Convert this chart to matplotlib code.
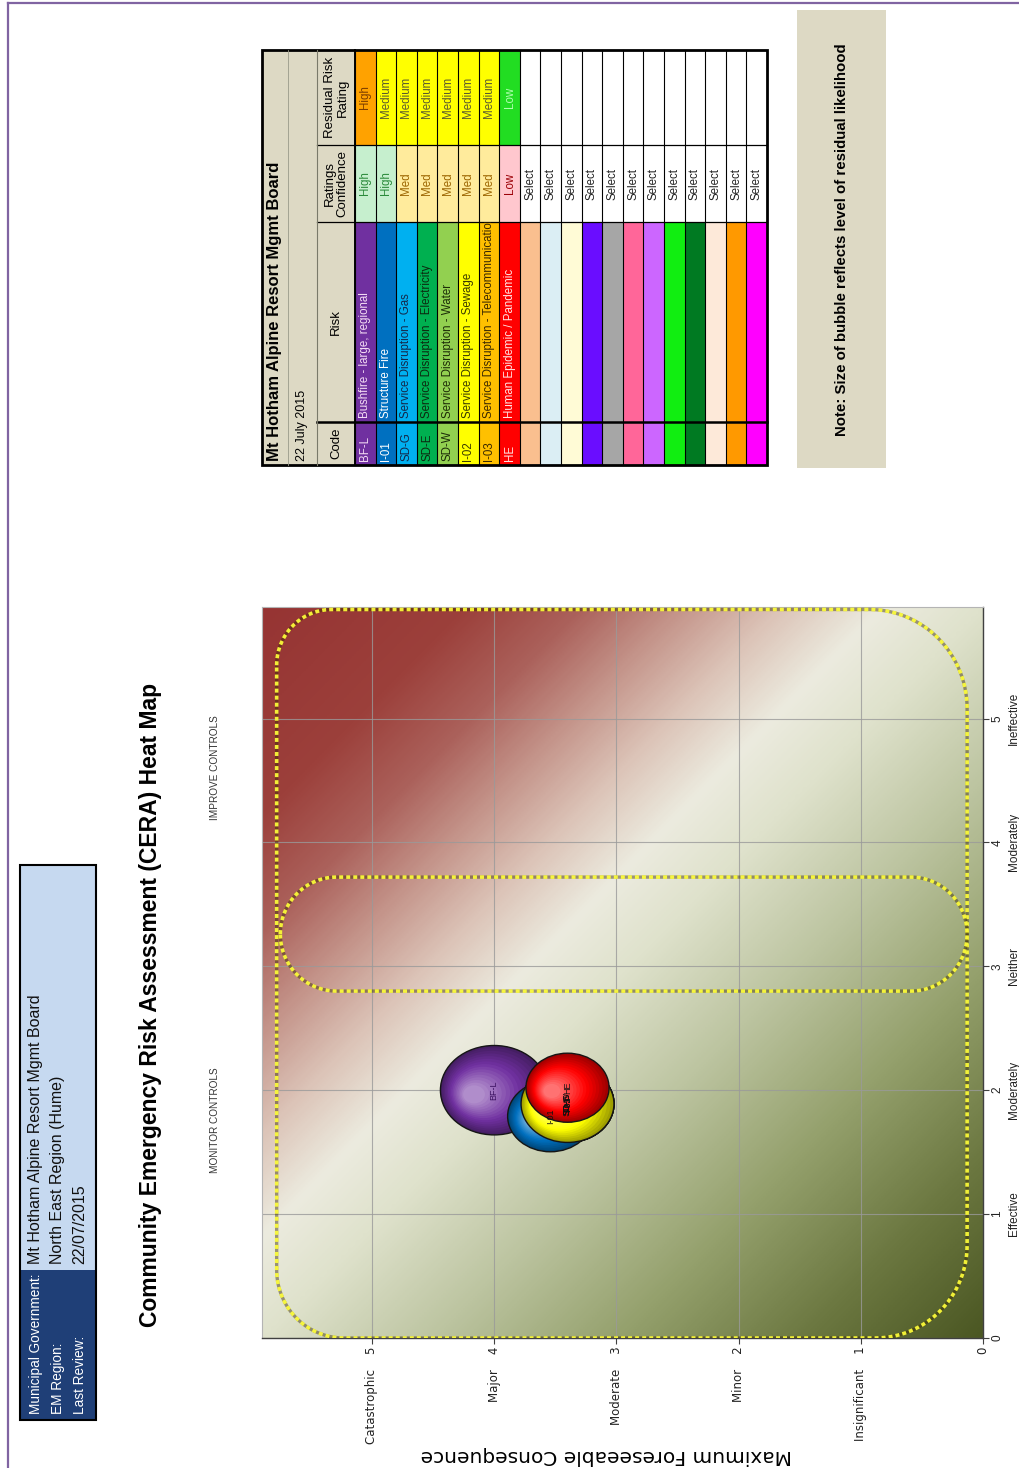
import numpy as np
import matplotlib.pyplot as plt
from matplotlib.patches import Rectangle, Ellipse, PathPatch
from matplotlib.path import Path
from matplotlib.colors import LinearSegmentedColormap, to_rgb
from matplotlib.transforms import Bbox, TransformedBbox

W, H = 1020, 1468
SANS = ['Liberation Sans', 'DejaVu Sans']

# ---------------- page header ----------------
info_labels = ['Municipal Government:', 'EM Region:', 'Last Review:']
info_values = ['Mt Hotham Alpine Resort Mgmt Board', 'North East Region (Hume)', '22/07/2015']
chart_title = 'Community Emergency Risk Assessment (CERA) Heat Map'
zone_labels = ['MONITOR CONTROLS', 'IMPROVE CONTROLS']
note_text = 'Note: Size of bubble reflects level of residual likelihood'

# ---------------- heat map axes ----------------
AX_MAX = 5.9
cons_ticks = [0, 1, 2, 3, 4, 5]
cons_names = ['', 'Insignificant', 'Minor', 'Moderate', 'Major', 'Catastrophic']
like_ticks = [0, 1, 2, 3, 4, 5]
like_names = ['', 'Effective', 'Moderately', 'Neither', 'Moderately', 'Ineffective']
cons_label = 'Maximum Foreseeable Consequence'

# ---------------- risk register ----------------
board = 'Mt Hotham Alpine Resort Mgmt Board'
review_date = '22 July 2015'
codes = ['BF-L', 'I-01', 'SD-G', 'SD-E', 'SD-W', 'I-02', 'I-03', 'HE']
risks = ['Bushfire - large, regional', 'Structure Fire', 'Service Disruption - Gas',
         'Service Disruption - Electricity', 'Service Disruption - Water',
         'Service Disruption - Sewage', 'Service Disruption - Telecommunications',
         'Human Epidemic / Pandemic']
risk_colors = ['#7030a0', '#0070c0', '#00b0f0', '#00b050', '#92d050', '#ffff00', '#ffc000', '#ff0000']
risk_text = ['#f4dcf4', '#ffffff', '#14284a', '#0c2a10', '#1c2c08', '#3a3a00', '#3a2800', '#ffe4e4']
confidence = ['High', 'High', 'Med', 'Med', 'Med', 'Med', 'Med', 'Low']
residual = ['High', 'Medium', 'Medium', 'Medium', 'Medium', 'Medium', 'Medium', 'Low']
blank_colors = ['#fabf8f', '#dbeef4', '#fffbd6', '#6a0dff', '#a6a6a6', '#ff6699',
                '#cc66ff', '#11ee11', '#007a22', '#fde9d9', '#ff9900', '#ff00ff']
blank_text = 'Select'

conf_style = {'High': ('#c6efce', '#2a8a3a'), 'Med': ('#ffeb9c', '#9c6500'), 'Low': ('#ffc7ce', '#9c0006')}
resid_style = {'High': ('#ffa200', '#7a3d00'), 'Medium': ('#ffff00', '#5a5a30'), 'Low': ('#22dd22', '#b0ffb0')}

# ---------------- bubbles (consequence, likelihood, size) ----------------
bubble_cons = [4.0, 3.54, 3.40, 3.40, 3.40, 3.40, 3.40, 3.40]
bubble_like = [2.0, 1.79, 1.89, 1.89, 1.89, 1.89, 1.89, 2.02]
bubble_size = [0.88, 0.70, 0.76, 0.76, 0.76, 0.76, 0.76, 0.68]
draw_order = [0, 2, 3, 4, 6, 1, 5, 7]

# dotted zones: (cons_low, cons_high, like_low, like_high), corner radii
# radii order: page top-left, top-right, bottom-right, bottom-left
zones = [((0.13, 5.78, 0.0, 5.88), (0.45, 0.8, 0.75, 0.55)),
         ((0.13, 5.75, 2.80, 3.72), (0.46, 0.46, 0.46, 0.46))]

heat_stops = [(0.00, '#4b5723'), (0.12, '#6b7740'), (0.25, '#94a06c'), (0.38, '#bcc4a0'),
              (0.50, '#dfe2cc'), (0.57, '#ecebdf'), (0.64, '#dcc4b8'), (0.71, '#c4948a'),
              (0.78, '#ab615b'), (0.86, '#9c403b'), (1.00, '#963433')]


def shaded_bubble(ax, c, l, w, color, n=16):
    h = w * 0.82
    base = np.array(to_rgb(color))
    dark = base * 0.62
    light = base + (1 - base) * 0.5
    ax.add_patch(Ellipse((c, l), w, h, facecolor=dark, edgecolor='#151515', lw=1.0, zorder=4))
    for k in range(1, n):
        f = k / n
        s = 1 - 0.85 * f
        if f < 0.4:
            col = dark + (base - dark) * (f / 0.4)
        else:
            col = base + (light - base) * ((f - 0.4) / 0.6)
        ax.add_patch(Ellipse((c + 0.2 * w * f, l - 0.05 * h * f), w * s, h * s,
                             facecolor=np.clip(col, 0, 1), edgecolor='none', zorder=4))


fig = plt.figure(figsize=(W / 100, H / 100), dpi=100)
page = fig.add_axes([0, 0, 1, 1], zorder=0)
page.set_xlim(0, W)
page.set_ylim(H, 0)
page.axis('off')

# purple page frame
page.plot([8, 8], [3, H], color='#8064a2', lw=1.6)
page.plot([8, W], [3, 3], color='#8064a2', lw=1.6)

# info box
page.add_patch(Rectangle((20, 865), 76, 405, fc='#c6d9f0', ec='none'))
page.add_patch(Rectangle((20, 1270), 76, 150, fc='#1f3f77', ec='none'))
page.add_patch(Rectangle((20, 865), 76, 555, fc='none', ec='black', lw=1.5))
for i, (lab, val) in enumerate(zip(info_labels, info_values)):
    x = 36 + 22 * i
    page.text(x, 1414, lab, rotation=90, ha='center', va='bottom', color='white',
              fontsize=9.8, family=SANS)
    page.text(x, 1264, val, rotation=90, ha='center', va='bottom', color='#101010',
              fontsize=11.5, family=SANS)

page.text(151, 1005, chart_title, rotation=90, ha='center', va='center',
          fontsize=16.5, weight='bold', family=SANS)
page.text(215, 1120, zone_labels[0], rotation=90, ha='center', va='center',
          fontsize=7.2, family=SANS, color='#333333')
page.text(215, 768, zone_labels[1], rotation=90, ha='center', va='center',
          fontsize=7.2, family=SANS, color='#333333')

# ---------------- risk register table ----------------
T_LEFT, T_RIGHT = 262, 767
Y_BOT, Y_TOP = 465, 50
COL = {'code': (422, 465), 'risk': (222, 422), 'conf': (145, 222), 'resid': (50, 145)}
X_DATE, X_HEAD, X_DATA = 288, 317, 355
n_rows = len(codes) + len(blank_colors)
row_w = (T_RIGHT - X_DATA) / n_rows
BEIGE = '#ddd9c4'

page.add_patch(Rectangle((T_LEFT, Y_TOP), X_DATA - T_LEFT, Y_BOT - Y_TOP, fc=BEIGE, ec='none'))
page.text(275, 461, board, rotation=90, ha='center', va='bottom', fontsize=12,
          weight='bold', family=SANS)
page.text(302.5, 461, review_date, rotation=90, ha='center', va='bottom', fontsize=9,
          family=SANS)
head_x = (X_HEAD + X_DATA) / 2
page.text(head_x, sum(COL['code']) / 2, 'Code', rotation=90, ha='center', va='center',
          fontsize=9.5, family=SANS)
page.text(head_x, sum(COL['risk']) / 2, 'Risk', rotation=90, ha='center', va='center',
          fontsize=9.5, family=SANS)
page.text(head_x, sum(COL['conf']) / 2, 'Ratings\nConfidence', rotation=90, ha='center',
          va='center', ma='center', fontsize=9.5, family=SANS, linespacing=1.1)
page.text(head_x, sum(COL['resid']) / 2, 'Residual Risk\nRating', rotation=90, ha='center',
          va='center', ma='center', fontsize=9.5, family=SANS, linespacing=1.1)


def cell(x0, col, fc):
    y0, y1 = COL[col]
    page.add_patch(Rectangle((x0, y0), row_w, y1 - y0, fc=fc, ec='none'))


for i in range(n_rows):
    x0 = X_DATA + i * row_w
    xc = x0 + row_w / 2
    if i < len(codes):
        fc = risk_colors[i]
        tc = risk_text[i]
        cell(x0, 'code', fc)
        cell(x0, 'risk', fc)
        cf, ct = conf_style[confidence[i]]
        rf, rt = resid_style[residual[i]]
        cell(x0, 'conf', cf)
        cell(x0, 'resid', rf)
        page.text(xc, 461, codes[i], rotation=90, ha='center', va='bottom', fontsize=8.3,
                  family=SANS, color=tc)
        t = page.text(xc, 418, risks[i], rotation=90, ha='center', va='bottom', fontsize=8.3,
                      family=SANS, color=tc)
        t.set_clip_box(TransformedBbox(Bbox([[x0, COL['risk'][0]], [x0 + row_w, COL['risk'][1]]]),
                                       page.transData))
        t.set_clip_on(True)
        page.text(xc, sum(COL['conf']) / 2, confidence[i], rotation=90, ha='center',
                  va='center', fontsize=8.3, family=SANS, color=ct)
        page.text(xc, sum(COL['resid']) / 2, residual[i], rotation=90, ha='center',
                  va='center', fontsize=8.3, family=SANS, color=rt)
    else:
        fc = blank_colors[i - len(codes)]
        cell(x0, 'code', fc)
        cell(x0, 'risk', fc)
        cell(x0, 'conf', 'white')
        cell(x0, 'resid', 'white')
        page.text(xc, sum(COL['conf']) / 2, blank_text, rotation=90, ha='center',
                  va='center', fontsize=8.3, family=SANS, color='#222222')
    page.plot([x0, x0], [Y_TOP, Y_BOT], color='black', lw=0.8)

for y, lw in [(422, 1.8), (222, 0.9), (145, 0.9)]:
    page.plot([X_HEAD, T_RIGHT], [y, y], color='black', lw=lw)
page.plot([X_DATE, X_DATE], [Y_TOP, Y_BOT], color='#9a9a8a', lw=0.6)
page.plot([X_HEAD, X_HEAD], [Y_TOP, Y_BOT], color='#7a7a6a', lw=0.8)
page.plot([X_DATA, X_DATA], [Y_TOP, Y_BOT], color='black', lw=1.4)
page.add_patch(Rectangle((T_LEFT, Y_TOP), T_RIGHT - T_LEFT, Y_BOT - Y_TOP, fc='none',
                         ec='black', lw=2.0))

# note box
page.add_patch(Rectangle((797, 10), 89, 458, fc=BEIGE, ec='none'))
page.text(842, 240, note_text, rotation=90, ha='center', va='center', fontsize=10.8,
          weight='bold', family=SANS)

# ---------------- heat map ----------------
ax = fig.add_axes([262 / W, 1 - 1338 / H, (983 - 262) / W, (1338 - 607) / H], zorder=1)
heat_cmap = LinearSegmentedColormap.from_list('cera', heat_stops)
cc, ll = np.meshgrid(np.linspace(0, AX_MAX, 300), np.linspace(0, AX_MAX, 300))
ax.imshow((cc + ll) / (2 * AX_MAX), extent=(0, AX_MAX, 0, AX_MAX), origin='lower',
          cmap=heat_cmap, vmin=0, vmax=1, aspect='auto', interpolation='bilinear', zorder=0)
ax.set_xlim(AX_MAX, 0)
ax.set_ylim(0, AX_MAX)

ax.set_xticks(cons_ticks)
ax.set_xticklabels([(n + '    ' if n else '') + str(t) for n, t in zip(cons_names, cons_ticks)],
                   rotation=90, fontsize=8.5, family='DejaVu Sans', color='#222222')
ax.yaxis.tick_right()
ax.set_yticks(like_ticks)
ax.set_yticklabels([str(t) + ('\n' + n if n else '') for t, n in zip(like_ticks, like_names)],
                   rotation=90, va='center', ma='center', fontsize=8.5, family=SANS,
                   color='#222222', linespacing=1.5)
ax.tick_params(axis='both', direction='out', length=4, width=0.8, color='#404040', pad=2)
ax.set_xlabel(cons_label, rotation=180, fontsize=14.5, family='DejaVu Sans', labelpad=3)
ax.xaxis.set_label_coords(0.477, -0.148)
ax.grid(True, color='#9a9a9a', lw=0.8, alpha=0.8)
for side in ['right', 'bottom']:
    ax.spines[side].set_color('#404040')
    ax.spines[side].set_linewidth(1.0)
for side in ['top', 'left']:
    ax.spines[side].set_color('#b4b4b4')
    ax.spines[side].set_linewidth(0.8)

for (c0, c1, l0, l1), radii in zones:
    r_tl, r_tr, r_br, r_bl = radii
    pts = []
    for (cx, cy), r, a0, a1 in [((c1 - r_tl, l1 - r_tl), r_tl, 180, 90),
                                ((c0 + r_tr, l1 - r_tr), r_tr, 90, 0),
                                ((c0 + r_br, l0 + r_br), r_br, 0, -90),
                                ((c1 - r_bl, l0 + r_bl), r_bl, -90, -180)]:
        ang = np.radians(np.linspace(a0, a1, 30))
        # consequence grows towards the page left, so mirror the arc horizontally
        pts += list(zip(cx - r * np.cos(ang), cy + r * np.sin(ang)))
    pts.append(pts[0])
    zone_path = Path(pts)
    ax.add_patch(PathPatch(zone_path, fc='none', ec='#3a2a00', lw=2.4, alpha=0.45, zorder=3))
    ax.add_patch(PathPatch(zone_path, fc='none', ec='#ffff3a', lw=2.6, alpha=0.92, zorder=3,
                           linestyle=(0, (1.1, 0.85)), capstyle='butt'))

for i in draw_order:
    shaded_bubble(ax, bubble_cons[i], bubble_like[i], bubble_size[i], risk_colors[i])
for i in draw_order:
    ax.text(bubble_cons[i], bubble_like[i], codes[i], rotation=90, ha='center', va='center',
            fontsize=6.5, family=SANS, color='#3a1060' if i == 0 else '#111111', zorder=6)

fig.savefig('out.png', dpi=100)
